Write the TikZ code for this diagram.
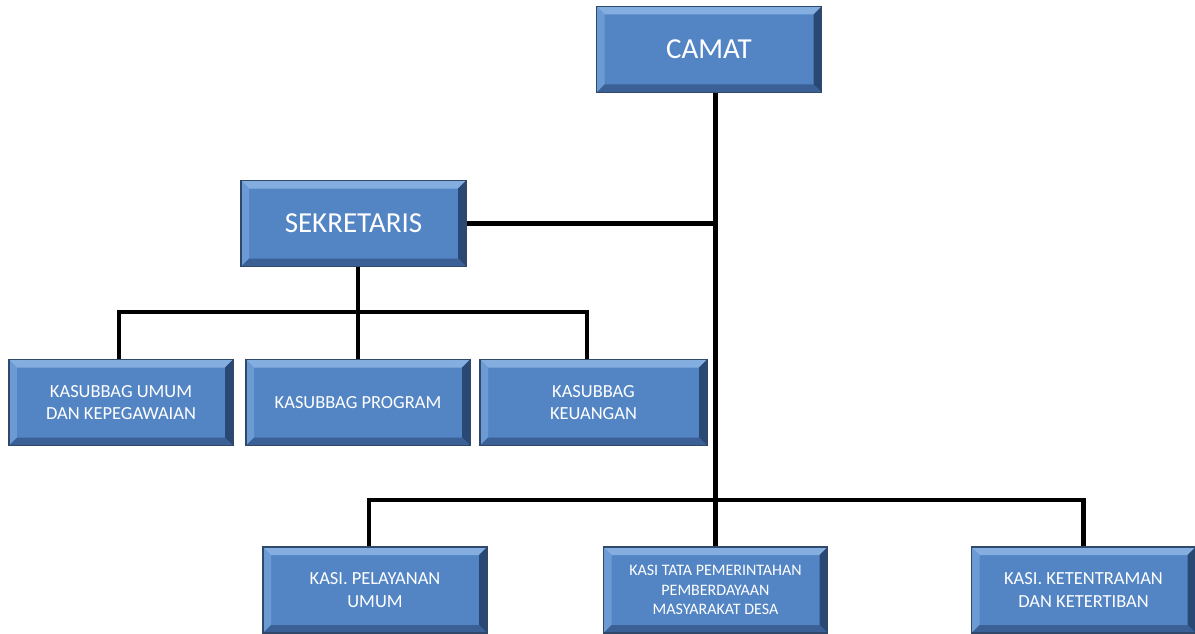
\documentclass[tikz,border=0pt]{standalone}
\usepackage{fontspec}
\setmainfont{Carlito}
\usepackage{tikz}
\definecolor{boxblue}{RGB}{83,133,197}
\definecolor{bevtop}{RGB}{132,174,224}
\definecolor{bevleft}{RGB}{108,155,212}
\definecolor{bevright}{RGB}{42,72,116}
\definecolor{bevbottom}{RGB}{58,96,150}
\definecolor{boxedge}{RGB}{48,72,106}
\tikzstyle{box} = [rectangle, minimum width=4.48cm, minimum height=1.72cm, text centered, align=center, draw=boxedge, line width=0.6pt, fill=boxblue, text=white, inner sep=2pt,
  path picture={
    \coordinate (nw) at (path picture bounding box.north west);
    \coordinate (ne) at (path picture bounding box.north east);
    \coordinate (sw) at (path picture bounding box.south west);
    \coordinate (se) at (path picture bounding box.south east);
    \fill[bevtop] (nw) -- (ne) -- ([shift={(-0.16,-0.16)}]ne) -- ([shift={(0.16,-0.16)}]nw) -- cycle;
    \fill[bevleft] (nw) -- (sw) -- ([shift={(0.16,0.16)}]sw) -- ([shift={(0.16,-0.16)}]nw) -- cycle;
    \fill[bevright] (ne) -- (se) -- ([shift={(-0.16,0.16)}]se) -- ([shift={(-0.16,-0.16)}]ne) -- cycle;
    \fill[bevbottom] (sw) -- (se) -- ([shift={(-0.16,0.16)}]se) -- ([shift={(0.16,0.16)}]sw) -- cycle;
  }]
\tikzstyle{bigbox} = [box, minimum width=4.5cm, font=\fontsize{16.5}{20}\selectfont]
\tikzstyle{midbox} = [box, font=\fontsize{10.5}{12.9}\selectfont]
\tikzstyle{smallbox} = [box, font=\fontsize{9.1}{11.2}\selectfont]
\tikzstyle{line} = [line width=2.3pt, black]

\begin{document}
\begin{tikzpicture}[node distance=2cm]
	\useasboundingbox (0,0) rectangle (23.9,12.66);
	\node (camat) [bigbox] at (14.18,11.67) {CAMAT};
	\node (sek) [bigbox, below of=camat, xshift=-7.11cm, yshift=-1.48cm] {SEKRETARIS};
	\node (prog) [midbox, below of=sek, xshift=0.09cm, yshift=-1.58cm] {KASUBBAG PROGRAM};
	\node (umum) [midbox, left of=prog, xshift=-2.74cm] {KASUBBAG UMUM\\DAN KEPEGAWAIAN};
	\node (keu) [midbox, minimum width=4.54cm, right of=prog, xshift=2.71cm] {KASUBBAG\\KEUANGAN};
	\node (tata) [smallbox] at (14.31,0.86) {KASI TATA PEMERINTAHAN\\PEMBERDAYAAN\\MASYARAKAT DESA};
	\node (pel) [midbox, left of=tata, xshift=-4.81cm] {KASI. PELAYANAN\\UMUM};
	\node (tram) [midbox, right of=tata, xshift=5.36cm] {KASI. KETENTRAMAN\\DAN KETERTIBAN};
	% garis struktur
	\draw [line] (camat.south -| tata.north) -- (tata.north);
	\draw [line] (sek.east) -- (sek.east -| tata.north);
	\draw [line] (sek.south -| prog.north) -- (prog.north);
	\draw [line] ([xshift=-0.04cm]umum.north) -- ++(0,0.94) -| ([xshift=-0.13cm]keu.north);
	\draw [line] ([xshift=-0.12cm]pel.north) -- ++(0,0.92) -| (tram.north);
\end{tikzpicture}
\end{document}
